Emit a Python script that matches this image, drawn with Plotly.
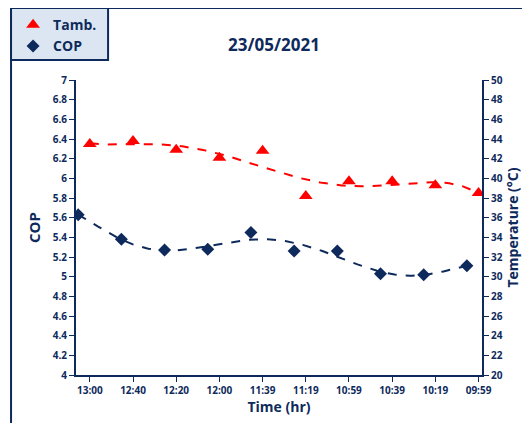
import numpy as np
import plotly.graph_objects as go

times = ["13:00", "12:40", "12:20", "12:00", "11:39", "11:19", "10:59", "10:39", "10:19", "09:59"]
tamb = [43.5, 43.8, 42.9, 42.1, 42.8, 38.2, 39.7, 39.7, 39.3, 38.5]
cop = [5.63, 5.38, 5.27, 5.28, 5.45, 5.26, 5.26, 5.03, 5.02, 5.11]

NAVY = "#0e2a5c"
idx = np.arange(len(times))
cop_x = idx - 0.27
xs = np.linspace(0, 9, 200)
xs_c = np.linspace(-0.27, 8.73, 200)
pt = np.polyfit(idx, tamb, 6)
pc = np.polyfit(cop_x, cop, 6)

fig = go.Figure()
fig.add_trace(go.Scatter(x=xs, y=np.polyval(pt, xs), yaxis="y2", mode="lines",
                         line=dict(color="#ff0000", dash="dash", width=2), showlegend=False))
fig.add_trace(go.Scatter(x=xs_c, y=np.polyval(pc, xs_c), mode="lines",
                         line=dict(color=NAVY, dash="dash", width=2), showlegend=False))
fig.add_trace(go.Scatter(x=idx, y=tamb, yaxis="y2", mode="markers", name="Tamb.",
                         marker=dict(symbol="triangle-up", size=12, color="#ff0000")))
fig.add_trace(go.Scatter(x=cop_x, y=cop, mode="markers", name="COP",
                         marker=dict(symbol="diamond", size=10, color=NAVY)))

tick_font = dict(family="Open Sans", color=NAVY, size=10, weight="bold")
fig.update_layout(
    width=530, height=423, margin=dict(l=68, r=56, t=72, b=56, autoexpand=False),
    paper_bgcolor="white", plot_bgcolor="white",
    title=dict(text="<b>23/05/2021</b>", x=266/530, xanchor="center", y=1-37/423, yanchor="middle",
               font=dict(family="Open Sans", color=NAVY, size=17)),
    xaxis=dict(range=[-0.32, 9.08], tickvals=list(idx), ticktext=times, showgrid=False, automargin=False,
               showline=True, linecolor=NAVY, linewidth=2, ticks="outside", tickcolor=NAVY,
               tickfont=tick_font, zeroline=False,
               title=dict(text="<b>Time (hr)</b>", font=dict(family="Open Sans", color=NAVY, size=14), standoff=4)),
    yaxis=dict(range=[4, 7], dtick=0.2, showgrid=False, showline=True, linecolor=NAVY, linewidth=2, automargin=False,
               ticks="outside", tickcolor=NAVY, tickfont=tick_font, zeroline=False, tickformat="~g",
               title=dict(text="<b>COP</b>", font=dict(family="Open Sans", color=NAVY, size=15), standoff=8)),
    yaxis2=dict(range=[20, 50], dtick=2, overlaying="y", side="right", showgrid=False, showline=True, automargin=False,
                linecolor=NAVY, linewidth=2, ticks="outside", tickcolor=NAVY, tickfont=tick_font, zeroline=False,
                title=dict(text="<b>Temperature (°C)</b>", font=dict(family="Open Sans", color=NAVY, size=14), standoff=6)),
    legend=dict(x=-0.155, y=1.24, xanchor="left", yanchor="top", bgcolor="rgba(0,0,0,0)",
                font=dict(family="Open Sans", color=NAVY, size=14, weight="bold"), tracegroupgap=0, itemwidth=30),
    shapes=[
        dict(type="rect", xref="paper", yref="paper", x0=-0.16, x1=1.3, y0=-0.3, y1=1.244,
             line=dict(color=NAVY, width=2), layer="below"),
        dict(type="rect", xref="paper", yref="paper", x0=-0.16, x1=0.079, y0=1.068, y1=1.244,
             line=dict(color=NAVY, width=2), fillcolor="#dce6f2", layer="below"),
    ],
)
fig.write_html("out.html")
